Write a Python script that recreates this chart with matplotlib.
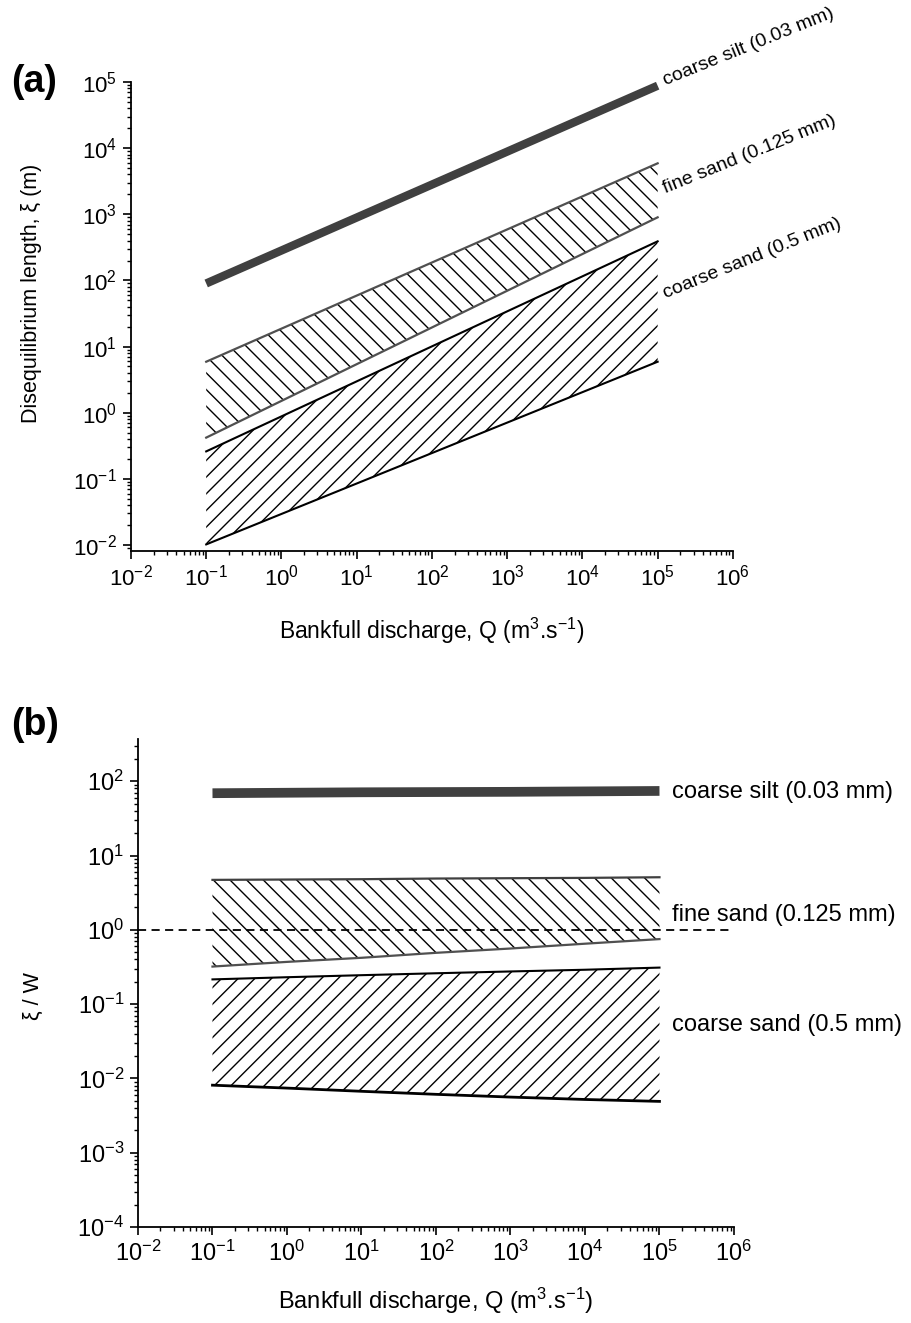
"""Disequilibrium length vs bankfull discharge, two stacked log-log panels."""

import numpy as np
import matplotlib
matplotlib.use("Agg")
import matplotlib.pyplot as plt
from matplotlib.ticker import LogLocator, NullFormatter

plt.rcParams["font.family"] = ["Liberation Sans", "DejaVu Sans"]
plt.rcParams["mathtext.fontset"] = "custom"
plt.rcParams["mathtext.rm"] = "Liberation Sans"
plt.rcParams["mathtext.it"] = "Liberation Sans"
plt.rcParams["mathtext.default"] = "regular"
plt.rcParams["hatch.linewidth"] = 1.0
plt.rcParams["xtick.labelsize"] = 16
plt.rcParams["ytick.labelsize"] = 16

# ------------------------------------------------------------------
# Data
# ------------------------------------------------------------------
labels = ["coarse silt (0.03 mm)", "fine sand (0.125 mm)", "coarse sand (0.5 mm)"]

# (a) disequilibrium length xi (m)
q_a = [0.1, 1e5]
silt_a = [90, 88000]
fine_hi_a = [5.9, 5900]
fine_lo_a = [0.42, 900]
coarse_hi_a = [0.26, 390]
coarse_lo_a = [0.0102, 5.9]
label_y_a = [90000, 2100, 54]   # where each rotated label starts

# (b) xi / W
q_b = [0.1, 1, 10, 100, 1e3, 1e4, 1e5]
silt_b = [69, 70, 71, 71.5, 72, 73, 74]
fine_hi_b = [4.7, 4.75, 4.8, 4.9, 4.95, 5.0, 5.1]
fine_lo_b = [0.32, 0.37, 0.42, 0.49, 0.56, 0.65, 0.75]
coarse_hi_b = [0.215, 0.23, 0.245, 0.26, 0.275, 0.29, 0.31]
coarse_lo_b = [0.0081, 0.0074, 0.0067, 0.0061, 0.0056, 0.0052, 0.0049]
label_y_b = [72, 1.6, 0.052]

XLABEL = "Bankfull discharge, Q (m$^{3}$.s$^{-1}$)"

# ------------------------------------------------------------------
fig = plt.figure(figsize=(9.12, 13.23), dpi=100)
ax_a = fig.add_axes([0.1436, 0.5835, 0.660, 0.3545])
ax_b = fig.add_axes([0.1513, 0.0726, 0.6535, 0.3688])


def style_axes(ax, ylim, ticksize):
    ax.set_xscale("log")
    ax.set_yscale("log")
    ax.set_xlim(0.01, 1e6)
    ax.set_ylim(*ylim)
    for side in ("top", "right"):
        ax.spines[side].set_visible(False)
    for side in ("left", "bottom"):
        ax.spines[side].set_linewidth(1.3)
    for axis in (ax.xaxis, ax.yaxis):
        axis.set_major_locator(LogLocator(base=10, numticks=20))
        axis.set_minor_locator(LogLocator(base=10, subs=np.arange(2, 10), numticks=20))
        axis.set_minor_formatter(NullFormatter())
    ax.tick_params(which="major", direction="out", length=6, width=1.2,
                   labelsize=ticksize, pad=4)
    ax.tick_params(which="minor", direction="out", length=3, width=1.0)


# ---- panel (a) ----
style_axes(ax_a, (0.0081, 1e5), 16)
ax_a.fill_between(q_a, fine_lo_a, fine_hi_a, facecolor="none",
                  edgecolor="black", hatch="\\\\", linewidth=0)
ax_a.fill_between(q_a, coarse_lo_a, coarse_hi_a, facecolor="none",
                  edgecolor="black", hatch="//", linewidth=0)
ax_a.plot(q_a, fine_hi_a, color="#505050", lw=1.6)
ax_a.plot(q_a, fine_lo_a, color="#505050", lw=1.6)
ax_a.plot(q_a, coarse_hi_a, color="black", lw=1.5)
ax_a.plot(q_a, coarse_lo_a, color="black", lw=1.5)
ax_a.plot(q_a, silt_a, color="#404040", lw=6, solid_capstyle="butt")
for lab, y in zip(labels, label_y_a):
    ax_a.text(1.26e5, y, lab, rotation=22, rotation_mode="anchor",
              ha="left", va="baseline", fontsize=14)

ax_a.set_xlabel(XLABEL, fontsize=16.5, labelpad=18)
ax_a.set_ylabel("Disequilibrium length, ξ (m)", fontsize=15.5)
ax_a.yaxis.set_label_coords(-0.148, 0.55)
fig.text(0.012, 0.938, "(a)", fontsize=27, fontweight="bold", va="center")

# ---- panel (b) ----
style_axes(ax_b, (1e-4, 370), 17)
ax_b.fill_between(q_b, fine_lo_b, fine_hi_b, facecolor="none",
                  edgecolor="black", hatch="\\\\", linewidth=0)
ax_b.fill_between(q_b, coarse_lo_b, coarse_hi_b, facecolor="none",
                  edgecolor="black", hatch="//", linewidth=0)
ax_b.plot(q_b, fine_hi_b, color="#404040", lw=1.6)
ax_b.plot(q_b, fine_lo_b, color="#505050", lw=1.6)
ax_b.plot(q_b, coarse_hi_b, color="black", lw=1.5)
ax_b.plot(q_b, coarse_lo_b, color="black", lw=2.0)
ax_b.plot(q_b, silt_b, color="#404040", lw=7, solid_capstyle="butt")
ax_b.plot([0.01, 9e5], [1, 1], color="black", lw=1.3, ls="--", dashes=(4.5, 3))
for lab, y in zip(labels, label_y_b):
    ax_b.text(1.45e5, y, lab, ha="left", va="center", fontsize=17)

ax_b.set_xlabel(XLABEL, fontsize=17, labelpad=14)
ax_b.set_ylabel("ξ / W", fontsize=15.5)
ax_b.yaxis.set_label_coords(-0.157, 0.473)
fig.text(0.012, 0.452, "(b)", fontsize=27, fontweight="bold", va="center")

fig.savefig("out.png", dpi=100)
